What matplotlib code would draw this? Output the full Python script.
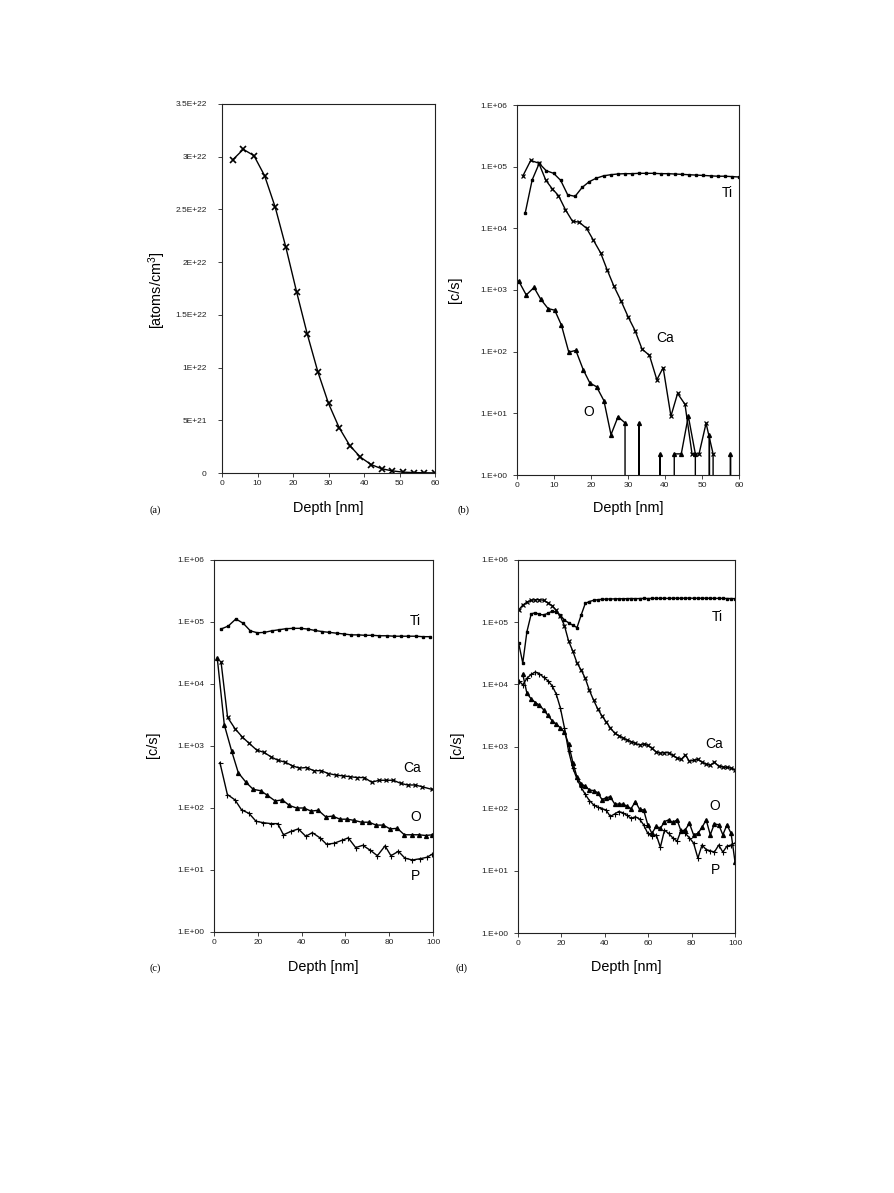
# -*- coding: utf-8 -*-
# Depth profiles (a)-(d): concentration and SIMS count rates vs depth
import matplotlib
matplotlib.use('Agg')
import matplotlib.pyplot as plt
from matplotlib.ticker import NullLocator
import numpy as np

plt.rcParams['font.family'] = ['Liberation Sans', 'DejaVu Sans']
plt.rcParams['mathtext.fontset'] = 'custom'
plt.rcParams['mathtext.rm'] = 'Liberation Sans'

# ---------------------------------------------------------------- data
# (a) concentration profile
a_depth = [3, 6, 9, 12, 15, 18, 21, 24, 27, 30, 33, 36, 39, 42, 45, 48, 51, 54, 57, 60]
a_conc = [2.97e22, 3.07e22, 3.01e22, 2.82e22, 2.52e22, 2.14e22, 1.72e22, 1.32e22,
          0.96e22, 0.66e22, 0.43e22, 0.26e22, 0.15e22, 0.08e22, 0.04e22, 0.02e22,
          0.008e22, 0.004e22, 0.002e22, 0.001e22]
a_yticks = [0, 0.5e22, 1e22, 1.5e22, 2e22, 2.5e22, 3e22, 3.5e22]
a_yticklabels = ['0', '5E+21', '1E+22', '1.5E+22', '2E+22', '2.5E+22', '3E+22', '3.5E+22']

# (b) count rates, 60 nm
b_ti_depth = [2.2, 4.1, 6.0, 7.9, 9.9, 11.8, 13.7, 15.7, 17.6, 19.5, 21.4, 23.4, 25.3,
              27.2, 29.1, 31.1, 33.0, 35.0, 36.9, 38.8, 40.7, 42.7, 44.6, 46.5, 48.5,
              50.4, 52.3, 54.2, 56.2, 58.1, 60.0]
b_ti = [1.75e4, 6.1e4, 1.13e5, 8.6e4, 7.8e4, 6.0e4, 3.5e4, 3.3e4, 4.6e4, 5.7e4, 6.5e4,
        7.1e4, 7.4e4, 7.6e4, 7.7e4, 7.7e4, 7.8e4, 7.8e4, 7.8e4, 7.7e4, 7.7e4, 7.6e4,
        7.5e4, 7.4e4, 7.3e4, 7.2e4, 7.1e4, 7.0e4, 7.0e4, 6.9e4, 6.8e4]
b_ca_depth = [1.6, 3.7, 5.9, 7.8, 9.5, 11.2, 13.1, 15.0, 16.8, 18.8, 20.6, 22.6, 24.4,
              26.2, 28.1, 30.1, 31.9, 33.8, 35.8, 37.8, 39.5, 41.6, 43.4, 45.4, 47.3,
              49.2, 51.1, 53.0, 54.9, 56.8, 58.7]
b_ca = [7.1e4, 1.26e5, 1.14e5, 6.0e4, 4.4e4, 3.4e4, 2.0e4, 1.3e4, 1.26e4, 1.0e4, 6.5e3,
        4.0e3, 2.1e3, 1.15e3, 6.7e2, 3.6e2, 2.2e2, 1.1e2, 87, 35, 55, 9, 21, 14, 2.2,
        2.2, 6.9, 2.2, 0, 0, 0]
b_o_depth = [0.45, 2.5, 4.6, 6.4, 8.4, 10.2, 12.0, 14.0, 15.9, 17.9, 19.7, 21.5, 23.5,
             25.4, 27.3, 29.2, 31.1, 33.0, 34.9, 36.8, 38.7, 40.6, 42.5, 44.4, 46.3,
             48.2, 50.1, 52.0, 53.9, 55.8, 57.7, 59.6]
b_o = [1400, 830, 1100, 710, 500, 470, 270, 98, 105, 51, 31, 27, 16, 4.5, 8.8, 7.0,
       0, 7.0, 0, 0, 2.2, 0, 2.2, 2.2, 9.0, 2.2, 0, 4.4, 0, 0, 2.2, 0]

# (c) count rates, 100 nm
c_ti_depth = [3.2, 6.5, 10.0, 13.4, 16.6, 19.8, 23.0, 26.3, 29.7, 32.9, 36.2, 39.6,
              42.8, 46.1, 49.5, 52.7, 56.0, 59.4, 62.6, 65.9, 68.9, 72.3, 75.5, 78.8,
              82.2, 85.4, 88.7, 92.1, 95.3, 98.6]
c_ti = [7.7e4, 8.6e4, 1.12e5, 9.5e4, 7.2e4, 6.7e4, 6.8e4, 7.2e4, 7.5e4, 7.8e4, 7.9e4,
        7.9e4, 7.7e4, 7.3e4, 7.0e4, 6.8e4, 6.6e4, 6.4e4, 6.2e4, 6.2e4, 6.1e4, 6.1e4,
        6.0e4, 6.0e4, 5.9e4, 5.9e4, 5.9e4, 5.9e4, 5.8e4, 5.8e4]
c_ca_depth = [3.2, 6.2, 9.6, 12.9, 16.1, 19.5, 22.8, 26.0, 29.1, 32.4, 35.8, 39.0,
              42.3, 45.5, 48.9, 52.2, 55.6, 58.8, 62.1, 65.3, 68.6, 72.0, 75.3, 78.5,
              81.9, 85.2, 88.4, 91.8, 95.1, 99.4]
c_ca = [2.3e4, 2.9e3, 1.9e3, 1.4e3, 1.1e3, 8.6e2, 7.9e2, 6.7e2, 5.9e2, 5.5e2, 4.8e2,
        4.4e2, 4.5e2, 4.0e2, 4.0e2, 3.6e2, 3.4e2, 3.3e2, 3.2e2, 3.1e2, 3.1e2, 2.6e2,
        2.8e2, 2.8e2, 2.8e2, 2.5e2, 2.35e2, 2.35e2, 2.2e2, 2.0e2]
c_o_depth = [1.5, 4.7, 8.1, 11.1, 14.6, 17.9, 21.3, 24.4, 27.9, 31.2, 34.4, 37.7, 41.1,
             44.3, 47.6, 51.0, 54.2, 57.5, 60.9, 64.1, 67.4, 70.8, 74.0, 77.3, 80.4,
             83.7, 86.9, 90.3, 93.6, 96.7, 99.7]
c_o = [2.6e4, 2.2e3, 8.2e2, 3.7e2, 2.6e2, 2.0e2, 1.9e2, 1.6e2, 1.3e2, 1.35e2, 1.1e2,
       1.0e2, 1.0e2, 89, 92, 72, 74, 66, 66, 63, 59, 59, 53, 53, 46, 47, 37, 37, 37,
       36, 37]
c_p_depth = [2.7, 6.1, 9.6, 12.6, 16.0, 19.2, 22.5, 25.9, 29.1, 31.7, 35.2, 38.5, 41.9,
             44.9, 48.4, 51.4, 54.8, 58.3, 61.3, 64.7, 67.9, 71.2, 74.6, 78.1, 80.8,
             84.2, 87.2, 90.6, 94.1, 97.1, 99.7]
c_p = [5.4e2, 1.65e2, 1.35e2, 93, 82, 61, 58, 56, 56, 37, 42, 46, 35, 40, 33, 26, 27,
       30, 33, 23, 25, 21, 17, 24.5, 17, 20, 15.5, 14.5, 15.2, 16, 18]

# (d) count rates, 100 nm (one depth grid for all four elements)
d_depth = [0.3, 2.2, 4.1, 6.1, 8.0, 9.9, 11.8, 13.7, 15.7, 17.6, 19.5, 21.4, 23.3, 25.3,
           27.2, 29.1, 31.0, 32.9, 34.9, 36.8, 38.7, 40.6, 42.5, 44.5, 46.4, 48.3,
           50.2, 52.1, 54.1, 56.0, 57.9, 59.8, 61.7, 63.7, 65.6, 67.5, 69.4, 71.3,
           73.3, 75.2, 77.1, 79.0, 80.9, 82.9, 84.8, 86.7, 88.6, 90.5, 92.5, 94.4,
           96.3, 98.2, 100.0]
d_ti = [4.6e4, 2.2e4, 7.0e4, 1.36e5, 1.42e5, 1.33e5, 1.31e5, 1.38e5, 1.5e5, 1.46e5,
        1.3e5, 1.08e5, 9.8e4, 8.9e4, 8.2e4, 1.3e5, 2.0e5, 2.15e5, 2.25e5, 2.30e5,
        2.33e5, 2.35e5, 2.36e5, 2.37e5, 2.38e5, 2.38e5, 2.39e5, 2.40e5, 2.39e5,
        2.40e5, 2.41e5, 2.40e5, 2.41e5, 2.42e5, 2.41e5, 2.42e5, 2.41e5, 2.42e5,
        2.43e5, 2.42e5, 2.43e5, 2.44e5, 2.42e5, 2.43e5, 2.42e5, 2.43e5, 2.42e5,
        2.41e5, 2.42e5, 2.41e5, 2.40e5, 2.40e5, 2.39e5]
d_ca = [1.57e5, 1.88e5, 2.1e5, 2.25e5, 2.3e5, 2.3e5, 2.25e5, 2.05e5, 1.85e5, 1.55e5,
        1.25e5, 8.8e4, 5.0e4, 3.4e4, 2.2e4, 1.7e4, 1.25e4, 8.0e3, 5.5e3, 4.0e3, 3.1e3,
        2.5e3, 2.0e3, 1.65e3, 1.5e3, 1.38e3, 1.28e3, 1.2e3, 1.12e3, 1.06e3, 1.1e3,
        1.05e3, 9.3e2, 8.2e2, 7.8e2, 8.0e2, 7.9e2, 7.2e2, 6.5e2, 6.2e2, 7.3e2, 5.8e2,
        6.0e2, 6.2e2, 5.6e2, 5.2e2, 5.0e2, 5.6e2, 4.8e2, 4.7e2, 4.6e2, 4.5e2, 4.2e2]
d_o = [np.nan, 1.45e4, 7.2e3, 5.8e3, 5.1e3, 4.6e3, 3.9e3, 3.2e3, 2.6e3, 2.3e3, 2.0e3,
       1.7e3, 1.1e3, 5.5e2, 3.2e2, 2.5e2, 2.3e2, 2.0e2, 1.95e2, 1.8e2, 1.4e2, 1.5e2,
       1.55e2, 1.2e2, 1.18e2, 1.18e2, 1.1e2, 1.0e2, 1.3e2, 98, 95, 55, 40, 52, 48, 62,
       66, 60, 66, 43, 46, 58, 38, 40, 50, 66, 38, 57, 55, 38, 55, 40, 14]
d_p = [1.15e4, 9.8e3, 1.25e4, 1.45e4, 1.58e4, 1.47e4, 1.3e4, 1.15e4, 9.5e3, 7.0e3,
       4.2e3, 2.0e3, 8.5e2, 4.5e2, 3.0e2, 2.2e2, 1.7e2, 1.35e2, 1.15e2, 1.05e2, 1.0e2,
       95, 75, 82, 90, 86, 78, 70, 74, 68, 55, 40, 36, 38, 24, 45, 40, 34, 30, 45, 40,
       34, 28, 16, 26, 22, 21, 20, 26, 20, 25, 26, 28]

log_ticks = [1, 10, 100, 1e3, 1e4, 1e5, 1e6]
log_ticklabels = ['1.E+00', '1.E+01', '1.E+02', '1.E+03', '1.E+04', '1.E+05', '1.E+06']

# ---------------------------------------------------------------- layout
W, H = 894, 1193
fig = plt.figure(figsize=(W / 100, H / 100), dpi=100)


def box(left, top, right, bottom):
    # pixel box -> figure fraction rectangle
    return [left / W, 1 - bottom / H, (right - left) / W, (bottom - top) / H]


def ftext(px, py, s, **kw):
    fig.text(px / W, 1 - py / H, s, **kw)


def style(ax, ypad):
    for sp in ax.spines.values():
        sp.set_linewidth(0.8)
        sp.set_color('#222222')
    ax.tick_params(direction='out', length=3, width=0.6, labelsize=6, colors='#222222')
    ax.tick_params(axis='x', pad=2)
    ax.tick_params(axis='y', pad=ypad)


def log_axis(ax):
    ax.set_yscale('log')
    ax.set_ylim(1, 1e6)
    ax.set_yticks(log_ticks)
    ax.set_yticklabels(log_ticklabels)
    ax.yaxis.set_minor_locator(NullLocator())


line_kw = dict(color='black', lw=1.0)
ti_kw = dict(marker='s', ms=2.0, **line_kw)
ca_kw = dict(marker='x', ms=3.2, mew=0.9, **line_kw)
o_kw = dict(marker='^', ms=2.8, **line_kw)
p_kw = dict(marker='+', ms=3.6, mew=0.8, **line_kw)
lab_kw = dict(fontsize=10, ha='center', va='center')

# (a)
ax_a = fig.add_axes(box(222, 104, 435, 473))
ax_a.plot(a_depth, a_conc, marker='x', ms=5, mew=1.2, color='black', lw=1.0)
ax_a.set_xlim(0, 60)
ax_a.set_ylim(0, 3.5e22)
ax_a.set_xticks(range(0, 61, 10))
ax_a.set_yticks(a_yticks)
ax_a.set_yticklabels(a_yticklabels)
style(ax_a, 8)

# (b)
ax_b = fig.add_axes(box(517, 105, 739, 475))
ax_b.plot(b_ti_depth, b_ti, **ti_kw)
ax_b.plot(b_ca_depth, b_ca, **ca_kw)
ax_b.plot(b_o_depth, b_o, **o_kw)
log_axis(ax_b)
ax_b.set_xlim(0, 60)
ax_b.set_xticks(range(0, 61, 10))
style(ax_b, 4)
ax_b.text(56.8, 3.7e4, 'Ti', **lab_kw)
ax_b.text(40, 1.66e2, 'Ca', **lab_kw)
ax_b.text(19.5, 10.5, 'O', **lab_kw)

# (c)
ax_c = fig.add_axes(box(214, 560, 433, 932))
ax_c.plot(c_ti_depth, c_ti, **ti_kw)
ax_c.plot(c_ca_depth, c_ca, **ca_kw)
ax_c.plot(c_o_depth, c_o, **o_kw)
ax_c.plot(c_p_depth, c_p, **p_kw)
log_axis(ax_c)
ax_c.set_xlim(0, 100)
ax_c.set_xticks(range(0, 101, 20))
style(ax_c, 4)
ax_c.text(92.1, 1.04e5, 'Ti', **lab_kw)
ax_c.text(90.5, 4.4e2, 'Ca', **lab_kw)
ax_c.text(92.1, 72, 'O', **lab_kw)
ax_c.text(92.1, 8.0, 'P', **lab_kw)

# (d)
ax_d = fig.add_axes(box(518, 560, 735, 933))
ax_d.plot(d_depth, d_ti, **ti_kw)
ax_d.plot(d_depth, d_ca, **ca_kw)
ax_d.plot(d_depth, d_o, **o_kw)
ax_d.plot(d_depth, d_p, **p_kw)
log_axis(ax_d)
ax_d.set_xlim(0, 100)
ax_d.set_xticks(range(0, 101, 20))
style(ax_d, 4)
ax_d.text(91.8, 1.22e5, 'Ti', **lab_kw)
ax_d.text(90.3, 1.09e3, 'Ca', **lab_kw)
ax_d.text(90.8, 1.1e2, 'O', **lab_kw)
ax_d.text(90.8, 10.4, 'P', **lab_kw)

# axis titles and panel letters, placed in pixels like the scanned page
ftext(157, 290, '[atoms/cm$^3$]', fontsize=10.4, rotation=90, ha='center', va='center')
ftext(455, 290, '[c/s]', fontsize=10.4, rotation=90, ha='center', va='center')
ftext(153, 745, '[c/s]', fontsize=10.4, rotation=90, ha='center', va='center')
ftext(457, 745, '[c/s]', fontsize=10.4, rotation=90, ha='center', va='center')
for px, py in [(328, 508), (628, 508), (323, 967), (626, 967)]:
    ftext(px, py, 'Depth [nm]', fontsize=10.4, ha='center', va='center')
serif = dict(family='Liberation Serif', fontsize=7.5, ha='center', va='center')
ftext(155, 510, '(a)', **serif)
ftext(463, 510, '(b)', **serif)
ftext(155, 968, '(c)', **serif)
ftext(461, 968, '(d)', **serif)

fig.savefig('out.png', dpi=100)
